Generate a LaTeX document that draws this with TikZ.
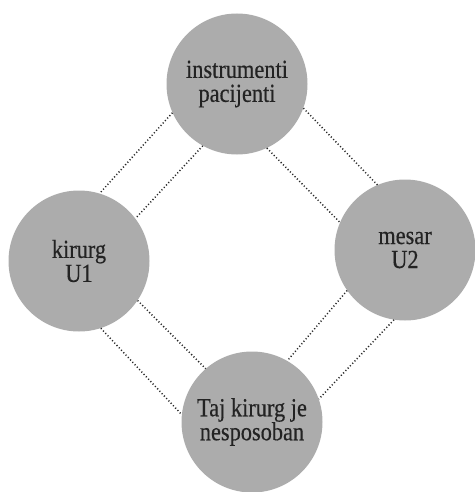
\documentclass[tikz,border=0pt]{standalone}
\usepackage{fontspec}
\setmainfont[FakeStretch=0.86,FakeBold=0.4]{Liberation Serif}
\definecolor{discfill}{RGB}{172,172,172}
\definecolor{inktext}{RGB}{35,35,35}
\definecolor{dotink}{RGB}{40,40,40}
\begin{document}
\begin{tikzpicture}[x=1pt,y=-1pt,
  disc/.style={circle,fill=discfill,draw=none,minimum size=141pt,inner sep=0pt,
    align=center,text=inktext,font=\fontsize{26}{24}\selectfont},
  link/.style={draw=dotink,line width=1.5pt,dash pattern=on 1.1pt off 2.2pt}]
  \useasboundingbox (0,0) rectangle (474,492);
  % the four circles
  \node[disc] (top)    at (237,84)  {instrumenti\\pacijenti};
  \node[disc] (left)   at (79,261)  {kirurg\\U1};
  \node[disc] (right)  at (405,250) {mesar\\U2};
  \node[disc] (bottom) at (252,422) {Taj kirurg je\\nesposoban};
  % paired dotted links between neighbouring circles
  \draw[link] (top.204) -- (left.73);
  \draw[link] (top.241) -- (left.37);
  \draw[link] (top.340) -- (right.113);
  \draw[link] (top.295) -- (right.157);
  \draw[link] (left.288) -- (bottom.174);
  \draw[link] (left.326) -- (bottom.131);
  \draw[link] (right.215) -- (bottom.60);
  \draw[link] (right.261) -- (bottom.19);
\end{tikzpicture}
\end{document}
